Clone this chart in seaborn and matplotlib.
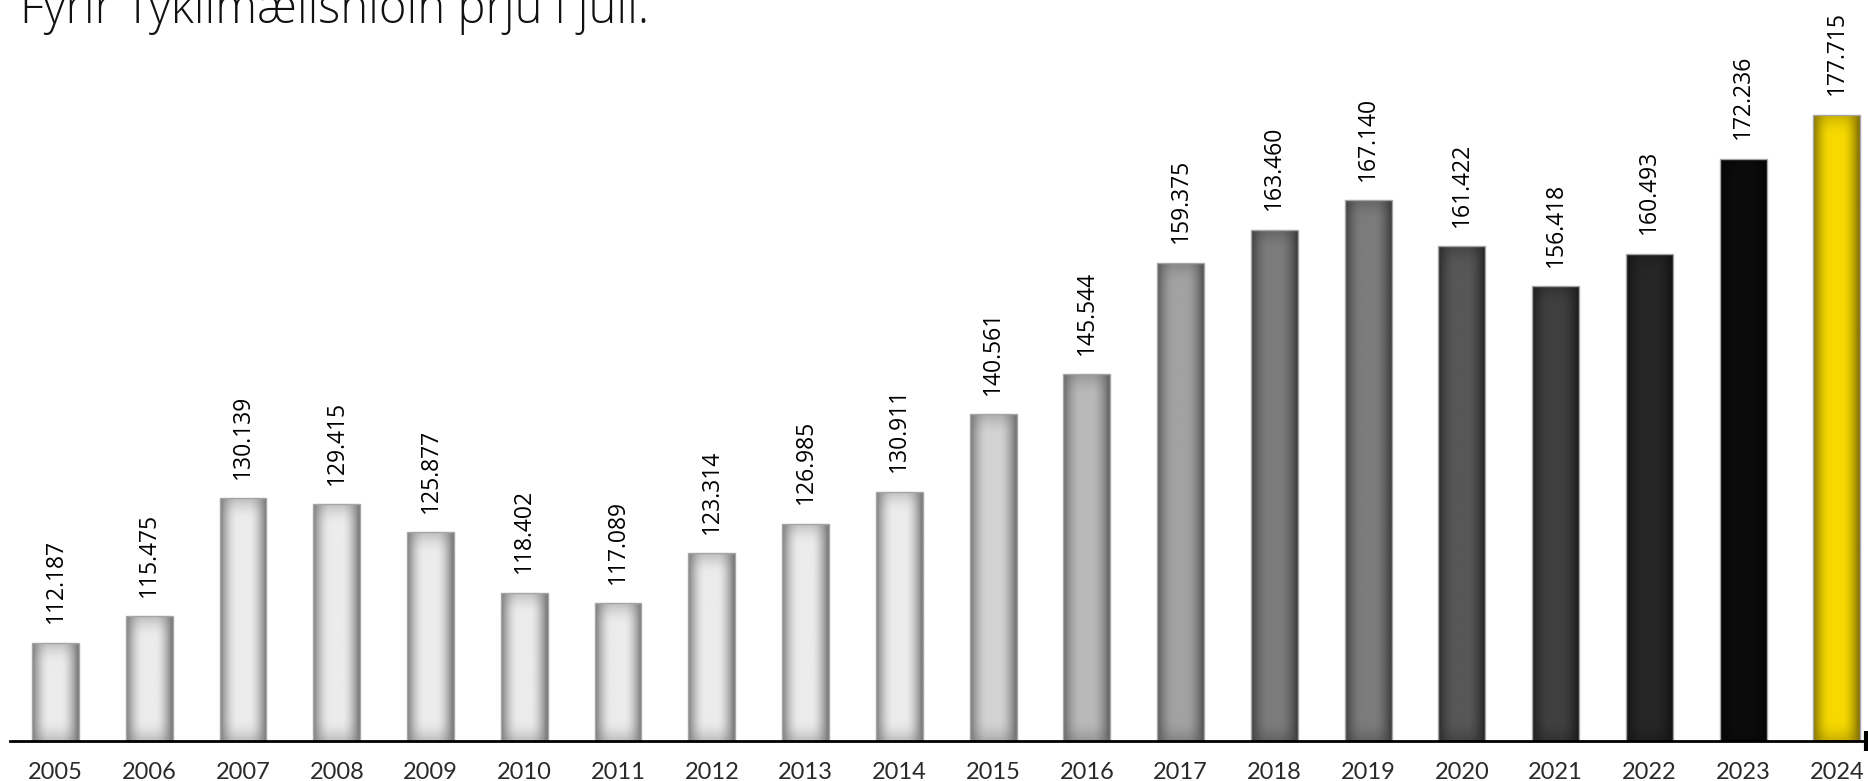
import numpy as np
import pandas as pd
import matplotlib
matplotlib.use("Agg")
import matplotlib.pyplot as plt
import matplotlib.colors as mcolors
import seaborn as sns

# Gögn
ar = ["2005", "2006", "2007", "2008", "2009", "2010", "2011", "2012", "2013", "2014",
      "2015", "2016", "2017", "2018", "2019", "2020", "2021", "2022", "2023", "2024"]
fjoldi = [112187, 115475, 130139, 129415, 125877, 118402, 117089, 123314, 126985, 130911,
          140561, 145544, 159375, 163460, 167140, 161422, 156418, 160493, 172236, 177715]

# litir: miðja og jaðar hverrar súlu
midja = ["#ececec"] * 10 + ["#d3d3d3", "#b9b9b9", "#a2a2a2", "#7c7c7c", "#7c7c7c",
                            "#575757", "#404040", "#262626", "#0c0c0c", "#f7d900"]
jadar = ["#7c7c7c"] * 10 + ["#747474", "#666666", "#585858", "#404040", "#404040",
                            "#2a2a2a", "#1e1e1e", "#141414", "#050505", "#857400"]

titill = "Fyrir Tyklimælishlóin þrjú í júlí."

df = pd.DataFrame({"ar": ar, "fjoldi": fjoldi})

sns.set_style("white")
plt.rcParams["font.family"] = ["Open Sans", "DejaVu Sans"]

fig = plt.figure(figsize=(18.68, 7.81), dpi=100)
ax = fig.add_axes([10 / 1868, 40 / 781, 1856 / 1868, 741 / 781])

grafico = sns.barplot(data=df, x="ar", y="fjoldi", hue="ar", palette=midja,
                      width=0.5, legend=False, ax=ax, edgecolor="#a5a5a5", linewidth=1.0)

ymin, ymax = 100000, 191960
ax.set_ylim(ymin, ymax)
ax.set_xlim(-0.485, 19.31)

# hallandi litur (sívalningsáferð)
px_per_unit = 741 / (ymax - ymin)
for i, bar in enumerate(ax.patches):
    x0 = bar.get_x()
    w = bar.get_width()
    top = bar.get_height()
    hpx = (top - ymin) * px_per_unit
    nx, ny = 60, max(int(hpx), 2)
    u = np.linspace(0, 1, nx)
    g = np.clip(np.minimum(u, 1 - u * 1.02) / 0.38, 0, 1)
    g = np.sin(g * np.pi / 2) ** 0.9
    vpx = np.linspace(0, hpx, ny)
    h = np.clip(np.minimum(vpx, hpx - vpx) / 22, 0, 1)
    h = 0.6 + 0.4 * np.sin(h * np.pi / 2)
    f = np.outer(h, g)
    c = np.array(mcolors.to_rgb(midja[i]))
    e = np.array(mcolors.to_rgb(jadar[i]))
    img = e[None, None, :] + (c - e)[None, None, :] * f[:, :, None]
    im = ax.imshow(img, extent=[x0, x0 + w, ymin, top], aspect="auto",
                   origin="lower", zorder=1.5, interpolation="bilinear")
    im.set_clip_path(bar)
    bar.set_facecolor("none")
    bar.set_zorder(2)

for cont in ax.containers:
    vals = [int(round(b.get_height())) for b in cont]
    ax.bar_label(cont, labels=[f"{v:,}".replace(",", ".") for v in vals],
                 rotation=90, padding=14, fontsize=16.5, color="black",
                 family=["Open Sans", "DejaVu Sans"])

ax.set_xlabel("")
ax.set_ylabel("")
ax.set_yticks([])
for s in ["left", "right", "top"]:
    ax.spines[s].set_visible(False)
ax.spines["bottom"].set_color("black")
ax.spines["bottom"].set_linewidth(2)
ax.plot([1], [0], transform=ax.transAxes, marker="|", markersize=14,
        markeredgewidth=3, color="black", clip_on=False)
ax.tick_params(axis="x", length=0, pad=15, labelsize=17, labelcolor="#2a2a2a")
for t in ax.get_xticklabels():
    t.set_family(["Lato", "DejaVu Sans"])
    t.set_fontweight("normal")

fig.text(20 / 1868, 1 - 23 / 781, titill, fontsize=34, fontweight="light",
         family=["Open Sans", "DejaVu Sans"], ha="left", va="baseline",
         color="#111111")

fig.savefig("out.png", dpi=100)
